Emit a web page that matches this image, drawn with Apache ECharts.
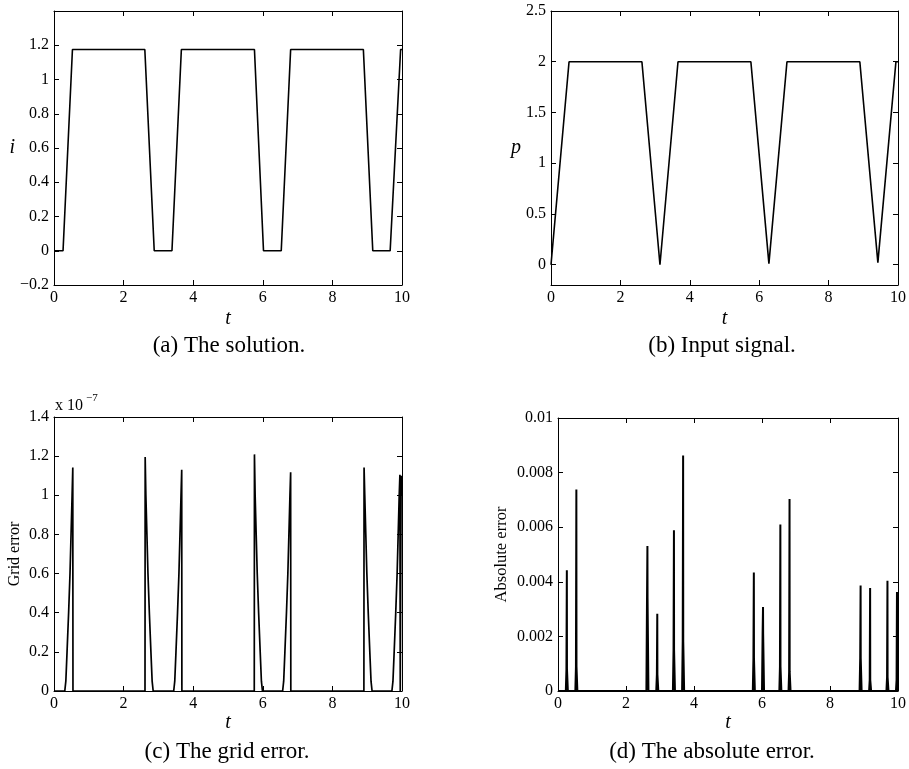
<!DOCTYPE html>
<html>
<head>
<meta charset="utf-8">
<script src="https://cdn.jsdelivr.net/npm/echarts@6/dist/echarts.min.js"></script>
<style>
  html, body { margin: 0; padding: 0; background: #fff; }
  #chart { width: 909px; height: 769px; }
</style>
</head>
<body>
<div id="chart"></div>
<script>
// (a) solution i(t)
const solT = [0, 0.26, 0.53, 2.61, 2.88, 3.39, 3.66, 5.76, 6.02, 6.53, 6.80, 8.89, 9.16, 9.66, 9.96, 10];
const solI = [0, 0, 1.175, 1.175, 0, 0, 1.175, 1.175, 0, 0, 1.175, 1.175, 0, 0, 1.175, 1.175];

// (b) input signal p(t)
const sigT = [0, 0.52, 2.62, 3.14, 3.66, 5.76, 6.28, 6.80, 8.90, 9.42, 9.94, 10];
const sigP = [0, 2, 2, 0, 2, 2, 0.01, 2, 2, 0.02, 2, 2];

// (c) grid error, in units of 1e-7
const gridT = [
  0, 0.31, 0.34, 0.375, 0.42, 0.46, 0.49, 0.52, 0.54, 0.545,
  2.615, 2.62, 2.64, 2.67, 2.70, 2.74, 2.785, 2.82, 2.85,
  3.44, 3.47, 3.505, 3.55, 3.59, 3.62, 3.65, 3.67, 3.675,
  5.755, 5.76, 5.78, 5.81, 5.84, 5.88, 5.925, 5.96, 5.99,
  6.57, 6.60, 6.635, 6.68, 6.72, 6.75, 6.78, 6.80, 6.805,
  8.905, 8.91, 8.93, 8.96, 8.99, 9.03, 9.075, 9.11, 9.14,
  9.71, 9.74, 9.775, 9.82, 9.86, 9.89, 9.92, 9.94, 9.95, 9.97, 9.975, 10
];
const gridE = [
  0, 0, 0.05, 0.2, 0.4, 0.6, 0.8, 1.0, 1.142, 0,
  0, 1.195, 1.0, 0.8, 0.6, 0.4, 0.2, 0.05, 0,
  0, 0.05, 0.2, 0.4, 0.6, 0.8, 1.0, 1.13, 0,
  0, 1.209, 1.0, 0.8, 0.6, 0.4, 0.2, 0.05, 0,
  0, 0.05, 0.2, 0.4, 0.6, 0.8, 1.0, 1.118, 0,
  0, 1.142, 1.0, 0.8, 0.6, 0.4, 0.2, 0.05, 0,
  0, 0.05, 0.2, 0.4, 0.6, 0.8, 1.0, 1.105, 0, 0, 1.1, 1.0
];

// (d) absolute error: spike positions, peak heights and base shoulders
const absT = [0.26, 0.54, 2.63, 2.92, 3.41, 3.68, 5.76, 6.03, 6.54, 6.81, 8.90, 9.18, 9.69, 9.97];
const absPeak = [0.00442, 0.00738, 0.00531, 0.00283, 0.00589, 0.00863, 0.00434, 0.00308, 0.0061, 0.00703, 0.00386, 0.00377, 0.00404, 0.00363];
const absBase = [0.0008, 0.0009, 0.0034, 0.0006, 0.0015, 0.0018, 0.0012, 0.0021, 0.0009, 0.0007, 0.0012, 0.0004, 0.0005, 0.0004];

const FONT = 'Liberation Serif';
const zip = (xs, ys) => xs.map((x, k) => [x, ys[k]]);

const absData = [[0, 0]];
absT.forEach((t, k) => {
  const b = absBase[k];
  absData.push([t - 0.03, 0], [t - 0.012, b], [t - 0.004, b], [t, absPeak[k]],
    [t + 0.004, b], [t + 0.012, b], [t + 0.03, 0]);
});
if (absData[absData.length - 1][0] > 10) absData[absData.length - 1][0] = 10;

const rects = [
  { left: 54, top: 11, width: 348, height: 274 },
  { left: 551, top: 11, width: 347, height: 274 },
  { left: 54, top: 417, width: 348, height: 274 },
  { left: 558, top: 418, width: 340, height: 273 },
];

const minus = (v) => String(v).replace('-', '\u2212');

const yCfgs = [
  { min: -0.2, max: 1.4, interval: 0.2, name: 'i', italic: true, rotate: 0, gap: 36, size: 20,
    fmt: (v) => (Math.abs(v - 1.4) < 1e-9 ? '' : minus(+v.toFixed(1))) },
  { min: -0.2, max: 2.5, custom: [0, 0.5, 1, 1.5, 2, 2.5], name: 'p', italic: true, rotate: 0, gap: 27, size: 20,
    fmt: (v) => String(v) },
  { min: 0, max: 1.4, interval: 0.2, name: 'Grid error', italic: false, rotate: 90, gap: 31, size: 16,
    fmt: (v) => String(+v.toFixed(1)) },
  { min: 0, max: 0.01, interval: 0.002, name: 'Absolute error', italic: false, rotate: 90, gap: 48, size: 16.5,
    fmt: (v) => String(+v.toFixed(3)) },
];

const lineStyle = { color: '#000', width: 1 };
const labelStyle = { color: '#000', fontFamily: FONT, fontSize: 16 };

const grid = [];
const xAxis = [];
const yAxis = [];
rects.forEach((r, g) => {
  grid.push(Object.assign({ show: false, containLabel: false }, r));
  xAxis.push({
    type: 'value', gridIndex: g, min: 0, max: 10, interval: 2, position: 'bottom',
    name: 't', nameLocation: 'middle', nameGap: g < 2 ? 24 : 22,
    nameTextStyle: { fontFamily: FONT, fontStyle: 'italic', fontSize: 20, color: '#000' },
    axisLine: { show: true, onZero: false, lineStyle },
    axisTick: { show: true, inside: true, length: 5, lineStyle },
    axisLabel: Object.assign({ margin: 5 }, labelStyle),
    splitLine: { show: false },
  });
  xAxis.push({
    type: 'value', gridIndex: g, min: 0, max: 10, interval: 2, position: 'top',
    axisLine: { show: true, onZero: false, lineStyle },
    axisTick: { show: true, inside: true, length: 5, lineStyle },
    axisLabel: { show: false },
    splitLine: { show: false },
  });
  const c = yCfgs[g];
  const base = { type: 'value', gridIndex: g, min: c.min, max: c.max };
  if (c.interval) base.interval = c.interval;
  const tick = { show: true, inside: true, length: 5, lineStyle };
  const lab = Object.assign({ margin: 5, formatter: c.fmt }, labelStyle);
  if (c.custom) {
    tick.customValues = c.custom;
    lab.customValues = c.custom;
  }
  yAxis.push(Object.assign({}, base, {
    position: 'left',
    name: c.name, nameLocation: 'middle', nameGap: c.gap, nameRotate: c.rotate,
    nameTextStyle: { fontFamily: FONT, fontStyle: c.italic ? 'italic' : 'normal', fontSize: c.size, color: '#000' },
    axisLine: { show: true, onZero: false, lineStyle },
    axisTick: tick,
    axisLabel: lab,
    splitLine: { show: false },
  }));
  yAxis.push(Object.assign({}, base, {
    position: 'right',
    axisLine: { show: true, onZero: false, lineStyle },
    axisTick: Object.assign({}, tick),
    axisLabel: { show: false },
    splitLine: { show: false },
  }));
});

const mkLine = (g, data, w) => ({
  type: 'line', xAxisIndex: g * 2, yAxisIndex: g * 2, data,
  showSymbol: false, symbol: 'none', silent: true,
  lineStyle: { color: '#000', width: w },
});

const captions = [
  ['(a) The solution.', 229, 346],
  ['(b) Input signal.', 722, 346],
  ['(c) The grid error.', 227, 752],
  ['(d) The absolute error.', 712, 752],
];

const chart = echarts.init(document.getElementById('chart'));
chart.setOption({
  animation: false,
  backgroundColor: '#fff',
  grid, xAxis, yAxis,
  series: [
    mkLine(0, zip(solT, solI), 1.6),
    mkLine(1, zip(sigT, sigP), 1.6),
    mkLine(2, zip(gridT, gridE), 1.7),
    mkLine(3, absData, 2),
  ],
  graphic: captions.map(([text, x, y]) => ({
    type: 'text', x, y,
    style: { text, fontFamily: FONT, fontSize: 23, fill: '#000', align: 'center', verticalAlign: 'middle' },
  })).concat([
    { type: 'text', x: 55, y: 414, style: { text: 'x 10', fontFamily: FONT, fontSize: 16, fill: '#000', verticalAlign: 'bottom' } },
    { type: 'text', x: 86, y: 404, style: { text: '\u22127', fontFamily: FONT, fontSize: 11, fill: '#000', verticalAlign: 'bottom' } },
  ]),
});
</script>
</body>
</html>
